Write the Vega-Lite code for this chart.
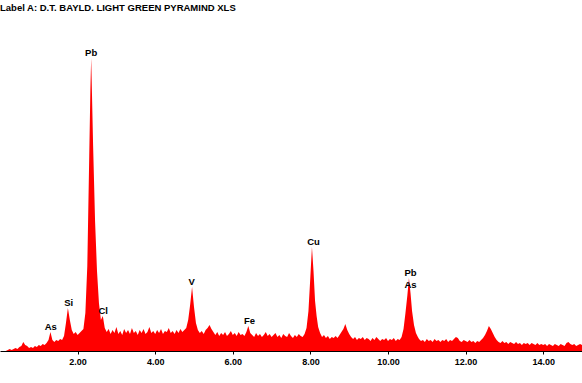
{
  "$schema": "https://vega.github.io/schema/vega-lite/v6.json",
  "width": 582,
  "height": 331,
  "autosize": "none",
  "padding": {"top": 20, "left": 0, "right": 0, "bottom": 32},
  "background": "white",
  "config": {"view": {"stroke": null}},
  "title": {"text": "Label A: D.T. BAYLD. LIGHT GREEN PYRAMIND XLS", "anchor": "start", "frame": "group", "font": "Liberation Sans", "fontSize": 9.5, "fontWeight": "bold", "color": "black", "offset": 8},
  "datasets": {
    "spectrum": [
      {"keV":0.00,"counts":0},{"keV":0.05,"counts":0},{"keV":0.10,"counts":0},{"keV":0.15,"counts":0},{"keV":0.20,"counts":1},{"keV":0.25,"counts":2},{"keV":0.30,"counts":1},{"keV":0.35,"counts":2},{"keV":0.40,"counts":3},{"keV":0.45,"counts":2},
      {"keV":0.50,"counts":4},{"keV":0.55,"counts":5},{"keV":0.60,"counts":9},{"keV":0.65,"counts":6},{"keV":0.70,"counts":5},{"keV":0.75,"counts":3},{"keV":0.80,"counts":4},{"keV":0.85,"counts":3},{"keV":0.90,"counts":5},{"keV":0.95,"counts":4},
      {"keV":1.00,"counts":6},{"keV":1.05,"counts":5},{"keV":1.10,"counts":7},{"keV":1.15,"counts":6},{"keV":1.20,"counts":8},{"keV":1.25,"counts":11},{"keV":1.30,"counts":19},{"keV":1.35,"counts":11},{"keV":1.40,"counts":9},{"keV":1.45,"counts":11},
      {"keV":1.50,"counts":10},{"keV":1.55,"counts":12},{"keV":1.60,"counts":11},{"keV":1.65,"counts":15},{"keV":1.70,"counts":28},{"keV":1.75,"counts":43},{"keV":1.80,"counts":31},{"keV":1.85,"counts":21},{"keV":1.90,"counts":17},{"keV":1.95,"counts":19},
      {"keV":2.00,"counts":16},{"keV":2.05,"counts":18},{"keV":2.10,"counts":20},{"keV":2.15,"counts":22},{"keV":2.20,"counts":38},{"keV":2.25,"counts":85},{"keV":2.30,"counts":195},{"keV":2.33,"counts":262},{"keV":2.35,"counts":293},{"keV":2.37,"counts":258},
      {"keV":2.40,"counts":205},{"keV":2.45,"counts":130},{"keV":2.50,"counts":80},{"keV":2.55,"counts":48},{"keV":2.60,"counts":31},{"keV":2.65,"counts":35},{"keV":2.70,"counts":23},{"keV":2.75,"counts":19},{"keV":2.80,"counts":22},{"keV":2.85,"counts":17},
      {"keV":2.90,"counts":21},{"keV":2.95,"counts":18},{"keV":3.00,"counts":24},{"keV":3.05,"counts":17},{"keV":3.10,"counts":20},{"keV":3.15,"counts":16},{"keV":3.20,"counts":22},{"keV":3.25,"counts":18},{"keV":3.30,"counts":21},{"keV":3.35,"counts":17},
      {"keV":3.40,"counts":23},{"keV":3.45,"counts":18},{"keV":3.50,"counts":20},{"keV":3.55,"counts":16},{"keV":3.60,"counts":21},{"keV":3.65,"counts":18},{"keV":3.70,"counts":22},{"keV":3.75,"counts":17},{"keV":3.80,"counts":19},{"keV":3.85,"counts":24},
      {"keV":3.90,"counts":18},{"keV":3.95,"counts":20},{"keV":4.00,"counts":17},{"keV":4.05,"counts":21},{"keV":4.10,"counts":18},{"keV":4.15,"counts":22},{"keV":4.20,"counts":17},{"keV":4.25,"counts":20},{"keV":4.30,"counts":19},{"keV":4.35,"counts":23},
      {"keV":4.40,"counts":18},{"keV":4.45,"counts":20},{"keV":4.50,"counts":17},{"keV":4.55,"counts":21},{"keV":4.60,"counts":18},{"keV":4.65,"counts":22},{"keV":4.70,"counts":19},{"keV":4.75,"counts":21},{"keV":4.80,"counts":23},{"keV":4.85,"counts":31},
      {"keV":4.90,"counts":46},{"keV":4.95,"counts":64},{"keV":5.00,"counts":44},{"keV":5.05,"counts":28},{"keV":5.10,"counts":21},{"keV":5.15,"counts":18},{"keV":5.20,"counts":20},{"keV":5.25,"counts":17},{"keV":5.30,"counts":21},{"keV":5.35,"counts":23},
      {"keV":5.40,"counts":26},{"keV":5.45,"counts":22},{"keV":5.50,"counts":19},{"keV":5.55,"counts":16},{"keV":5.60,"counts":19},{"keV":5.65,"counts":15},{"keV":5.70,"counts":18},{"keV":5.75,"counts":16},{"keV":5.80,"counts":19},{"keV":5.85,"counts":15},
      {"keV":5.90,"counts":17},{"keV":5.95,"counts":20},{"keV":6.00,"counts":16},{"keV":6.05,"counts":18},{"keV":6.10,"counts":15},{"keV":6.15,"counts":19},{"keV":6.20,"counts":16},{"keV":6.25,"counts":17},{"keV":6.30,"counts":15},{"keV":6.35,"counts":19},
      {"keV":6.40,"counts":25},{"keV":6.45,"counts":18},{"keV":6.50,"counts":16},{"keV":6.55,"counts":14},{"keV":6.60,"counts":18},{"keV":6.65,"counts":15},{"keV":6.70,"counts":17},{"keV":6.75,"counts":14},{"keV":6.80,"counts":16},{"keV":6.85,"counts":19},
      {"keV":6.90,"counts":15},{"keV":6.95,"counts":17},{"keV":7.00,"counts":14},{"keV":7.05,"counts":16},{"keV":7.10,"counts":18},{"keV":7.15,"counts":14},{"keV":7.20,"counts":16},{"keV":7.25,"counts":13},{"keV":7.30,"counts":17},{"keV":7.35,"counts":15},
      {"keV":7.40,"counts":14},{"keV":7.45,"counts":18},{"keV":7.50,"counts":15},{"keV":7.55,"counts":13},{"keV":7.60,"counts":16},{"keV":7.65,"counts":14},{"keV":7.70,"counts":17},{"keV":7.75,"counts":15},{"keV":7.80,"counts":14},{"keV":7.85,"counts":17},
      {"keV":7.90,"counts":23},{"keV":7.95,"counts":40},{"keV":8.00,"counts":75},{"keV":8.04,"counts":104},{"keV":8.08,"counts":80},{"keV":8.12,"counts":50},{"keV":8.16,"counts":35},{"keV":8.20,"counts":24},{"keV":8.25,"counts":18},{"keV":8.30,"counts":14},
      {"keV":8.35,"counts":16},{"keV":8.40,"counts":13},{"keV":8.45,"counts":15},{"keV":8.50,"counts":12},{"keV":8.55,"counts":14},{"keV":8.60,"counts":13},{"keV":8.65,"counts":15},{"keV":8.70,"counts":13},{"keV":8.75,"counts":16},{"keV":8.80,"counts":19},
      {"keV":8.85,"counts":22},{"keV":8.90,"counts":27},{"keV":8.95,"counts":21},{"keV":9.00,"counts":17},{"keV":9.05,"counts":14},{"keV":9.10,"counts":12},{"keV":9.15,"counts":14},{"keV":9.20,"counts":11},{"keV":9.25,"counts":13},{"keV":9.30,"counts":12},
      {"keV":9.35,"counts":14},{"keV":9.40,"counts":11},{"keV":9.45,"counts":13},{"keV":9.50,"counts":12},{"keV":9.55,"counts":10},{"keV":9.60,"counts":13},{"keV":9.65,"counts":11},{"keV":9.70,"counts":14},{"keV":9.75,"counts":12},{"keV":9.80,"counts":10},
      {"keV":9.85,"counts":12},{"keV":9.90,"counts":11},{"keV":9.95,"counts":13},{"keV":10.00,"counts":10},{"keV":10.05,"counts":12},{"keV":10.10,"counts":11},{"keV":10.15,"counts":13},{"keV":10.20,"counts":10},{"keV":10.25,"counts":12},{"keV":10.30,"counts":11},
      {"keV":10.35,"counts":14},{"keV":10.40,"counts":22},{"keV":10.45,"counts":38},{"keV":10.50,"counts":56},{"keV":10.54,"counts":73},{"keV":10.58,"counts":58},{"keV":10.62,"counts":40},{"keV":10.67,"counts":26},{"keV":10.72,"counts":18},{"keV":10.77,"counts":14},
      {"keV":10.80,"counts":12},{"keV":10.85,"counts":10},{"keV":10.90,"counts":11},{"keV":10.95,"counts":9},{"keV":11.00,"counts":12},{"keV":11.05,"counts":10},{"keV":11.10,"counts":11},{"keV":11.15,"counts":9},{"keV":11.20,"counts":12},{"keV":11.25,"counts":10},
      {"keV":11.30,"counts":11},{"keV":11.35,"counts":9},{"keV":11.40,"counts":11},{"keV":11.45,"counts":10},{"keV":11.50,"counts":12},{"keV":11.55,"counts":9},{"keV":11.60,"counts":11},{"keV":11.65,"counts":10},{"keV":11.70,"counts":12},{"keV":11.75,"counts":14},
      {"keV":11.80,"counts":13},{"keV":11.85,"counts":10},{"keV":11.90,"counts":9},{"keV":11.95,"counts":11},{"keV":12.00,"counts":10},{"keV":12.05,"counts":9},{"keV":12.10,"counts":11},{"keV":12.15,"counts":9},{"keV":12.20,"counts":10},{"keV":12.25,"counts":8},
      {"keV":12.30,"counts":10},{"keV":12.35,"counts":9},{"keV":12.40,"counts":11},{"keV":12.45,"counts":13},{"keV":12.50,"counts":16},{"keV":12.55,"counts":20},{"keV":12.60,"counts":25},{"keV":12.65,"counts":22},{"keV":12.70,"counts":18},{"keV":12.75,"counts":14},
      {"keV":12.80,"counts":11},{"keV":12.85,"counts":9},{"keV":12.90,"counts":8},{"keV":12.95,"counts":10},{"keV":13.00,"counts":8},{"keV":13.05,"counts":9},{"keV":13.10,"counts":7},{"keV":13.15,"counts":9},{"keV":13.20,"counts":8},{"keV":13.25,"counts":7},
      {"keV":13.30,"counts":9},{"keV":13.35,"counts":7},{"keV":13.40,"counts":8},{"keV":13.45,"counts":6},{"keV":13.50,"counts":8},{"keV":13.55,"counts":7},{"keV":13.60,"counts":8},{"keV":13.65,"counts":6},{"keV":13.70,"counts":8},{"keV":13.75,"counts":7},
      {"keV":13.80,"counts":6},{"keV":13.85,"counts":8},{"keV":13.90,"counts":6},{"keV":13.95,"counts":7},{"keV":14.00,"counts":6},{"keV":14.05,"counts":7},{"keV":14.10,"counts":5},{"keV":14.15,"counts":7},{"keV":14.20,"counts":6},{"keV":14.25,"counts":5},
      {"keV":14.30,"counts":7},{"keV":14.35,"counts":6},{"keV":14.40,"counts":5},{"keV":14.45,"counts":7},{"keV":14.50,"counts":6},{"keV":14.55,"counts":5},{"keV":14.60,"counts":8},{"keV":14.65,"counts":9},{"keV":14.70,"counts":7},{"keV":14.75,"counts":6},
      {"keV":14.80,"counts":7},{"keV":14.85,"counts":5},{"keV":14.90,"counts":6},{"keV":14.95,"counts":7},{"keV":15.00,"counts":6}
    ],
    "peaks": [
      {"label":"As","keV":1.31,"counts":19},
      {"label":"Si","keV":1.77,"counts":43},
      {"label":"Pb","keV":2.35,"counts":293},
      {"label":"Cl","keV":2.66,"counts":35},
      {"label":"V","keV":4.94,"counts":64},
      {"label":"Fe","keV":6.43,"counts":25},
      {"label":"Cu","keV":8.08,"counts":104},
      {"label":"Pb\nAs","keV":10.58,"counts":73}
    ]
  },
  "layer": [
    {
      "data": {"name": "spectrum"},
      "mark": {"type": "area", "color": "#ff0000", "interpolate": "linear", "clip": true},
      "encoding": {
        "x": {"field": "keV", "type": "quantitative", "scale": {"domain": [0, 15], "nice": false, "zero": false},
          "axis": {"values": [2,4,6,8,10,12,14], "format": ".2f", "title": null, "grid": false, "domainColor": "black", "tickColor": "black", "tickSize": 3, "labelPadding": 3, "labelFont": "Liberation Sans", "labelFontWeight": "bold", "labelFontSize": 9, "labelColor": "black"}},
        "y": {"field": "counts", "type": "quantitative", "scale": {"domain": [0, 331], "nice": false}, "axis": null}
      }
    },
    {
      "data": {"name": "peaks"},
      "mark": {"type": "text", "baseline": "bottom", "align": "center", "dy": 0, "lineBreak": "\n", "lineHeight": 12, "font": "Liberation Sans", "fontSize": 9.5, "fontWeight": "bold", "color": "black"},
      "encoding": {
        "x": {"field": "keV", "type": "quantitative"},
        "y": {"field": "counts", "type": "quantitative"},
        "text": {"field": "label"}
      }
    }
  ]
}
